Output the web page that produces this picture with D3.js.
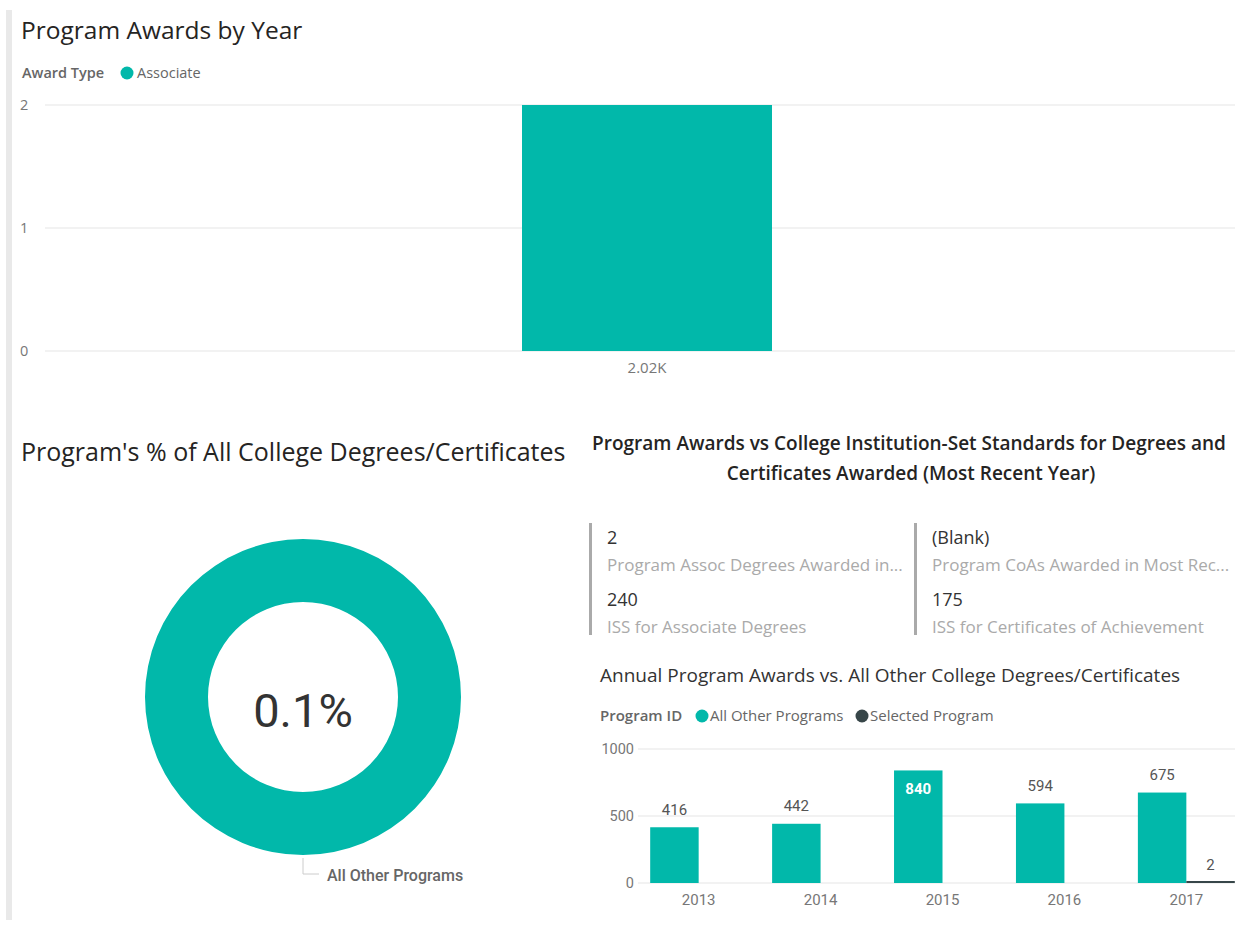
<!DOCTYPE html>
<html>
<head>
<meta charset="utf-8">
<script src="https://cdn.jsdelivr.net/npm/d3@7"></script>
<style>
  body { margin: 0; background: #fff; }
  svg { display: block; font-family: "Segoe UI", "Open Sans", sans-serif; }
  .din { font-family: "Roboto", "DejaVu Sans", sans-serif; }
</style>
</head>
<body>
<div id="chart"></div>
<script>
'use strict';

// top chart
const awardCats = ['2.02K'];
const awardVals = [2];
const awardTicks = [0, 1, 2];

// donut: ring shows all other programs, centre shows the selected share
const donutCats = ['All Other Programs'];
const donutVals = [2967];
const selectedTotal = 2;

// multi-row card
const cardValues = ['2', '(Blank)', '240', '175'];
const cardLabels = [
  'Program Assoc Degrees Awarded in...',
  'Program CoAs Awarded in Most Rec...',
  'ISS for Associate Degrees',
  'ISS for Certificates of Achievement'
];

// bottom chart
const years = ['2013', '2014', '2015', '2016', '2017'];
const seriesNames = ['All Other Programs', 'Selected Program'];
const otherVals = [416, 442, 840, 594, 675];
const selectedVals = [null, null, null, null, 2];
const yearTicks = [0, 500, 1000];

const teal = '#01B8AA';
const dark = '#374649';
const grid = '#eeeeee';

const width = 1243;
const height = 925;

const svg = d3.select('#chart')
  .append('svg')
    .attr('width', width)
    .attr('height', height);

// left page edge
svg.append('rect')
  .attr('x', 6).attr('y', 10)
  .attr('width', 6).attr('height', 910)
  .attr('fill', '#e9e9e9');

// ---------- Program Awards by Year ----------
svg.append('text')
  .attr('x', 21).attr('y', 39)
  .attr('font-size', 24.5)
  .attr('fill', '#252423')
  .text('Program Awards by Year');

const leg1 = svg.append('g').attr('font-size', 14.5).attr('fill', '#666');
leg1.append('text').attr('x', 22).attr('y', 78).attr('font-weight', 600).text('Award Type');
leg1.append('circle').attr('cx', 127).attr('cy', 73).attr('r', 6.5).attr('fill', teal);
leg1.append('text').attr('x', 137).attr('y', 78).text('Associate');

const y1 = d3.scaleLinear().domain([0, 2]).range([351, 105]);
const x1 = d3.scaleBand().domain(awardCats).range([59, 1235])
  .paddingInner(0).paddingOuter(1.852);

const g1 = svg.append('g');
g1.selectAll('line.grid')
  .data(awardTicks)
  .join('line')
    .attr('x1', 45).attr('x2', 1235)
    .attr('y1', d => y1(d)).attr('y2', d => y1(d))
    .attr('stroke', grid).attr('stroke-width', 1.5);
g1.selectAll('text.tick')
  .data(awardTicks)
  .join('text')
    .attr('x', 20).attr('y', d => y1(d))
    .attr('dy', '0.35em')
    .attr('font-size', 14.5).attr('fill', '#777')
    .text(d => d);
g1.selectAll('rect')
  .data(awardVals)
  .join('rect')
    .attr('x', (d, i) => x1(awardCats[i]))
    .attr('width', x1.bandwidth())
    .attr('y', d => y1(d))
    .attr('height', d => y1(0) - y1(d))
    .attr('fill', teal);
g1.selectAll('text.cat')
  .data(awardCats)
  .join('text')
    .attr('x', d => x1(d) + x1.bandwidth() / 2)
    .attr('y', 373)
    .attr('text-anchor', 'middle')
    .attr('font-size', 15).attr('fill', '#777')
    .text(d => d);

// ---------- Donut ----------
svg.append('text')
  .attr('x', 21).attr('y', 461)
  .attr('font-size', 25)
  .attr('fill', '#252423')
  .text("Program's % of All College Degrees/Certificates");

const cx = 303, cy = 697, rOuter = 158, rInner = 95;
const pie = d3.pie().sort(null)(donutVals);
const arc = d3.arc().innerRadius(rInner).outerRadius(rOuter);
const gd = svg.append('g').attr('transform', `translate(${cx},${cy})`);
gd.selectAll('path')
  .data(pie)
  .join('path')
    .attr('d', arc)
    .attr('fill', teal);

const share = selectedTotal / (d3.sum(donutVals) + selectedTotal);
gd.append('text')
  .attr('class', 'din')
  .attr('y', 30)
  .attr('text-anchor', 'middle')
  .attr('font-size', 47)
  .attr('fill', '#333')
  .text(d3.format('.1%')(share));

// leader line for the slice (points straight down)
const lx = 0;
const ly = rOuter + 3;
gd.append('path')
  .attr('d', `M${lx},${ly}V${ly + 16}H${lx + 16}`)
  .attr('fill', 'none')
  .attr('stroke', '#ccc');
gd.append('text')
  .attr('class', 'din')
  .attr('x', lx + 24).attr('y', ly + 17)
  .attr('dy', '0.35em')
  .attr('font-size', 16).attr('fill', '#666')
  .attr('font-weight', 500)
  .text(donutCats[0]);

// ---------- Card ----------
const cardTitle = svg.append('text')
  .attr('text-anchor', 'middle')
  .attr('font-size', 19)
  .attr('font-weight', 600)
  .attr('fill', '#252423');
cardTitle.append('tspan').attr('x', 909).attr('y', 450)
  .text('Program Awards vs College Institution-Set Standards for Degrees and');
cardTitle.append('tspan').attr('x', 911).attr('y', 480)
  .text('Certificates Awarded (Most Recent Year)');

const colX = [590, 915];
const rowY = [538, 600];
const gc = svg.append('g');
colX.forEach(x => {
  gc.append('rect')
    .attr('x', x - 1).attr('y', 523)
    .attr('width', 3).attr('height', 112)
    .attr('fill', '#aaa');
});
cardValues.forEach((v, i) => {
  const x = colX[i % 2] + 17;
  const y = rowY[Math.floor(i / 2)];
  gc.append('text')
    .attr('x', x).attr('y', y).attr('dy', '0.35em')
    .attr('font-size', 18).attr('fill', '#333')
    .text(v);
  gc.append('text')
    .attr('x', x).attr('y', y + 27).attr('dy', '0.35em')
    .attr('font-size', 17).attr('fill', '#aaa')
    .text(cardLabels[i]);
});

// ---------- Annual Program Awards ----------
svg.append('text')
  .attr('x', 600).attr('y', 682)
  .attr('font-size', 19)
  .attr('fill', '#333')
  .text('Annual Program Awards vs. All Other College Degrees/Certificates');

const leg2 = svg.append('g').attr('font-size', 15).attr('fill', '#666');
leg2.append('text').attr('x', 600).attr('y', 721).attr('font-weight', 600).text('Program ID');
leg2.append('circle').attr('cx', 702).attr('cy', 716).attr('r', 6.5).attr('fill', teal);
leg2.append('text').attr('x', 710).attr('y', 721).text(seriesNames[0]);
leg2.append('circle').attr('cx', 862).attr('cy', 716).attr('r', 6.5).attr('fill', dark);
leg2.append('text').attr('x', 870).attr('y', 721).text(seriesNames[1]);

const y2 = d3.scaleLinear().domain([0, 1000]).range([883, 749]);
const x2 = d3.scaleBand().domain(years).range([638, 1247])
  .paddingInner(0.205).paddingOuter(0.1);
const xs = d3.scaleBand().domain(seriesNames).range([0, x2.bandwidth()]);

const g2 = svg.append('g');
g2.selectAll('line.grid')
  .data(yearTicks)
  .join('line')
    .attr('x1', 638).attr('x2', 1235)
    .attr('y1', d => y2(d)).attr('y2', d => y2(d))
    .attr('stroke', grid).attr('stroke-width', 1.5);
g2.selectAll('text.tick')
  .data(yearTicks)
  .join('text')
    .attr('x', 634).attr('y', d => y2(d))
    .attr('dy', '0.35em')
    .attr('text-anchor', 'end')
    .attr('class', 'din')
    .attr('font-size', 14.5).attr('fill', '#777')
    .text(d => d);

const barData = [];
years.forEach((yr, i) => {
  [otherVals[i], selectedVals[i]].forEach((v, s) => {
    if (v !== null) barData.push({ year: yr, series: seriesNames[s], value: v, s });
  });
});

const clip = svg.append('clipPath').attr('id', 'plot2');
clip.append('rect').attr('x', 638).attr('y', 740).attr('width', 597).attr('height', 150);

g2.append('g')
  .attr('clip-path', 'url(#plot2)')
  .selectAll('rect')
  .data(barData)
  .join('rect')
    .attr('x', d => x2(d.year) + xs(d.series))
    .attr('width', xs.bandwidth())
    .attr('y', d => Math.min(y2(d.value), y2(0) - 2))
    .attr('height', d => Math.max(y2(0) - y2(d.value), 2))
    .attr('fill', d => d.s === 0 ? teal : dark);

const inside = d => y2(d.value) - 30 < y2(1000);
g2.selectAll('text.lbl')
  .data(barData)
  .join('text')
    .attr('class', 'din')
    .attr('x', d => x2(d.year) + xs(d.series) + xs.bandwidth() / 2)
    .attr('y', d => inside(d) ? y2(d.value) + 18 : y2(d.value) - 18)
    .attr('dy', '0.35em')
    .attr('text-anchor', 'middle')
    .attr('font-size', 15)
    .attr('font-weight', d => inside(d) ? 700 : 400)
    .attr('fill', d => inside(d) ? '#fff' : '#555')
    .text(d => d.value);

g2.selectAll('text.year')
  .data(years)
  .join('text')
    .attr('class', 'din')
    .attr('x', d => x2(d) + x2.bandwidth() / 2)
    .attr('y', 900)
    .attr('dy', '0.35em')
    .attr('text-anchor', 'middle')
    .attr('font-size', 15).attr('fill', '#777')
    .text(d => d);
</script>
</body>
</html>
